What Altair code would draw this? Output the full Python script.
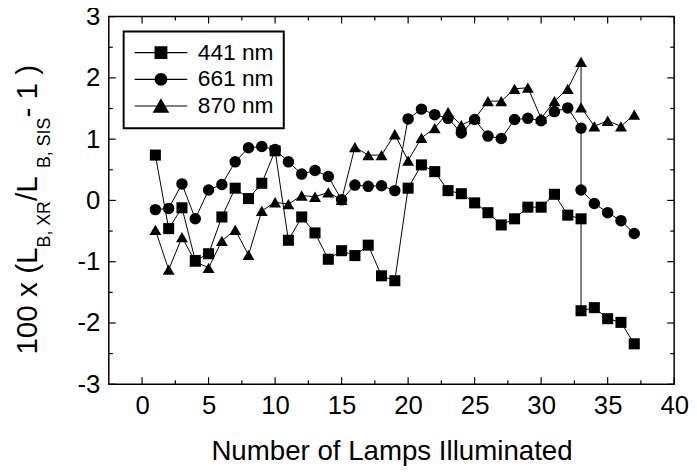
import altair as alt
import pandas as pd

# ---------------- data ----------------
series_names = ["441 nm", "661 nm", "870 nm"]

lamps = list(range(1, 34)) + [33] + list(range(34, 38))

vals_441 = [0.74, -0.46, -0.12, -0.98, -0.87, -0.27, 0.20, 0.03, 0.28, 0.81,
            -0.65, -0.27, -0.53, -0.96, -0.82, -0.90, -0.73, -1.23, -1.31, 0.20,
            0.58, 0.47, 0.16, 0.11, -0.04, -0.20, -0.40, -0.30, -0.11, -0.11,
            0.10, -0.24, -0.30, -1.80, -1.75, -1.93, -1.99, -2.34]
vals_661 = [-0.15, -0.13, 0.27, -0.30, 0.17, 0.26, 0.63, 0.86, 0.88, 0.83,
            0.63, 0.43, 0.49, 0.39, 0.01, 0.25, 0.23, 0.24, 0.16, 1.33,
            1.49, 1.40, 1.34, 1.10, 1.32, 1.05, 1.01, 1.32, 1.34, 1.30,
            1.45, 1.51, 1.18, 0.17, -0.05, -0.20, -0.33, -0.54]
vals_870 = [-0.48, -1.13, -0.60, -1.00, -1.10, -0.66, -0.48, -0.89, -0.17, -0.03,
            -0.06, 0.08, 0.06, 0.13, 0.01, 0.87, 0.74, 0.74, 1.08, 0.65,
            1.02, 1.18, 1.44, 1.23, 1.33, 1.62, 1.62, 1.82, 1.84, 1.34,
            1.62, 1.82, 2.26, 1.52, 1.21, 1.30, 1.21, 1.40]

x_major = [0, 5, 10, 15, 20, 25, 30, 35, 40]
x_minor = [2.5, 7.5, 12.5, 17.5, 22.5, 27.5, 32.5, 37.5]
y_major = [-3, -2, -1, 0, 1, 2, 3]
y_minor = [-2.5, -1.5, -0.5, 0.5, 1.5, 2.5]

x_title = "Number of Lamps Illuminated"
y_title_parts = ["100 x (L", "B, XR", " /L", "B, SIS", " - 1 )"]

# ---------------- tables ----------------
rows = []
for name, vals in zip(series_names, [vals_441, vals_661, vals_870]):
    for i, (x, v) in enumerate(zip(lamps, vals)):
        rows.append({"series": name, "i": i, "lamps": x, "value": v})
df = pd.DataFrame(rows)

W, H = 572, 372
FONT = "Liberation Sans"

xscale = alt.Scale(domain=[-2.5, 40], nice=False, zero=False)
yscale = alt.Scale(domain=[-3, 3], nice=False, zero=False)

x_axis = alt.Axis(values=x_major, title=x_title, labelFlush=False,
                  labelPadding=9, titlePadding=19, titleFontSize=28,
                  titleFont=FONT, titleFontWeight="normal", titleColor="black",
                  labelExpr="'' + datum.value")
y_axis = alt.Axis(values=y_major, title=None, labelPadding=9,
                  labelExpr="'' + datum.value")

marker_shapes = ["square", "circle", "triangle-up"]
marker_sizes = [125, 145, 175]

# legend symbols: line segment + marker (custom SVG paths)
leg_square = "M-1.6,-0.09H1.5V0.09H-1.6Z M3.5,-0.09H6.6V0.09H3.5Z M1.5,-1H3.5V1H1.5Z"
leg_circle = "M-1.6,-0.09H1.5V0.09H-1.6Z M3.5,-0.09H6.6V0.09H3.5Z M3.5,0A1,1 0 1,1 1.5,0A1,1 0 1,1 3.5,0Z"
leg_tri = "M-1.6,-0.09H1.8V0.09H-1.6Z M3.2,-0.09H6.6V0.09H3.2Z M2.5,-1.2L3.8,1.05L1.2,1.05Z"

base = alt.Chart(df)

x_enc = alt.X("lamps:Q", scale=xscale, axis=x_axis)
y_enc = alt.Y("value:Q", scale=yscale, axis=y_axis)

lines = base.mark_line(color="black", strokeWidth=1).encode(
    x=x_enc, y=y_enc, detail="series:N", order="i:Q")

points = base.mark_point(filled=True, color="black", opacity=1).encode(
    x=x_enc, y=y_enc,
    shape=alt.Shape("series:N", scale=alt.Scale(domain=series_names, range=marker_shapes), legend=None),
    size=alt.Size("series:N", scale=alt.Scale(domain=series_names, range=marker_sizes), legend=None),
)

legend_layer = base.mark_point(filled=True, color="black", opacity=0).encode(
    x=x_enc, y=y_enc,
    shape=alt.Shape("series:N",
                    scale=alt.Scale(domain=series_names, range=[leg_square, leg_circle, leg_tri]),
                    legend=alt.Legend(orient="none", legendX=15, legendY=15, title=None,
                                      strokeColor="black", fillColor="white", padding=10,
                                      symbolSize=169, symbolOpacity=1, symbolFillColor="black",
                                      symbolStrokeWidth=0, labelOffset=42, rowPadding=3,
                                      labelFontSize=23, labelFont=FONT, labelColor="black")),
)

def tick_layer(vals, axis, length):
    d = pd.DataFrame({"v": vals})
    c = alt.Chart(d).mark_rule(color="black", strokeWidth=1.2)
    if axis == "x":
        enc_x = alt.X("v:Q", scale=xscale, axis=x_axis)
        return (c.encode(x=enc_x, y=alt.value(H), y2=alt.value(H - length)) +
                c.encode(x=enc_x, y=alt.value(0), y2=alt.value(length)))
    enc_y = alt.Y("v:Q", scale=yscale, axis=y_axis)
    return (c.encode(y=enc_y, x=alt.value(0), x2=alt.value(length)) +
            c.encode(y=enc_y, x=alt.value(W), x2=alt.value(W - length)))

ticks = (tick_layer(x_major, "x", 7) + tick_layer(x_minor, "x", 4) +
         tick_layer(y_major, "y", 7) + tick_layer(y_minor, "y", 4))

# y-axis title with subscripts, built from text pieces
tdf = pd.DataFrame({"t": y_title_parts, "k": list(range(len(y_title_parts)))})
title_pos = [(-73, 342, 30), (-60, 233.6, 18), (-73, 186.6, 30), (-60, 153.2, 18), (-73, 102.2, 30)]
title_layers = []
for k, (tx, ty, fs) in enumerate(title_pos):
    title_layers.append(
        alt.Chart(tdf).transform_filter(alt.datum.k == k).mark_text(
            angle=270, align="left", baseline="alphabetic", font=FONT,
            fontSize=fs, color="black").encode(
            text="t:N", x=alt.value(tx), y=alt.value(ty)))

chart = alt.layer(lines, points, legend_layer, ticks, *title_layers).resolve_scale(
    shape="independent", size="independent"
).properties(
    width=W, height=H,
    autosize=alt.AutoSizeParams(type="none"),
    padding={"left": 102, "top": 6, "right": 15, "bottom": 80},
).configure_view(stroke="black", strokeWidth=1.5).configure_axis(
    labelFont=FONT, labelFontSize=26, labelColor="black", ticks=False,
    domain=False, grid=False,
).configure_legend(strokeWidth=2)

chart.save("out.html", embed_options={"renderer": "svg", "actions": False})
